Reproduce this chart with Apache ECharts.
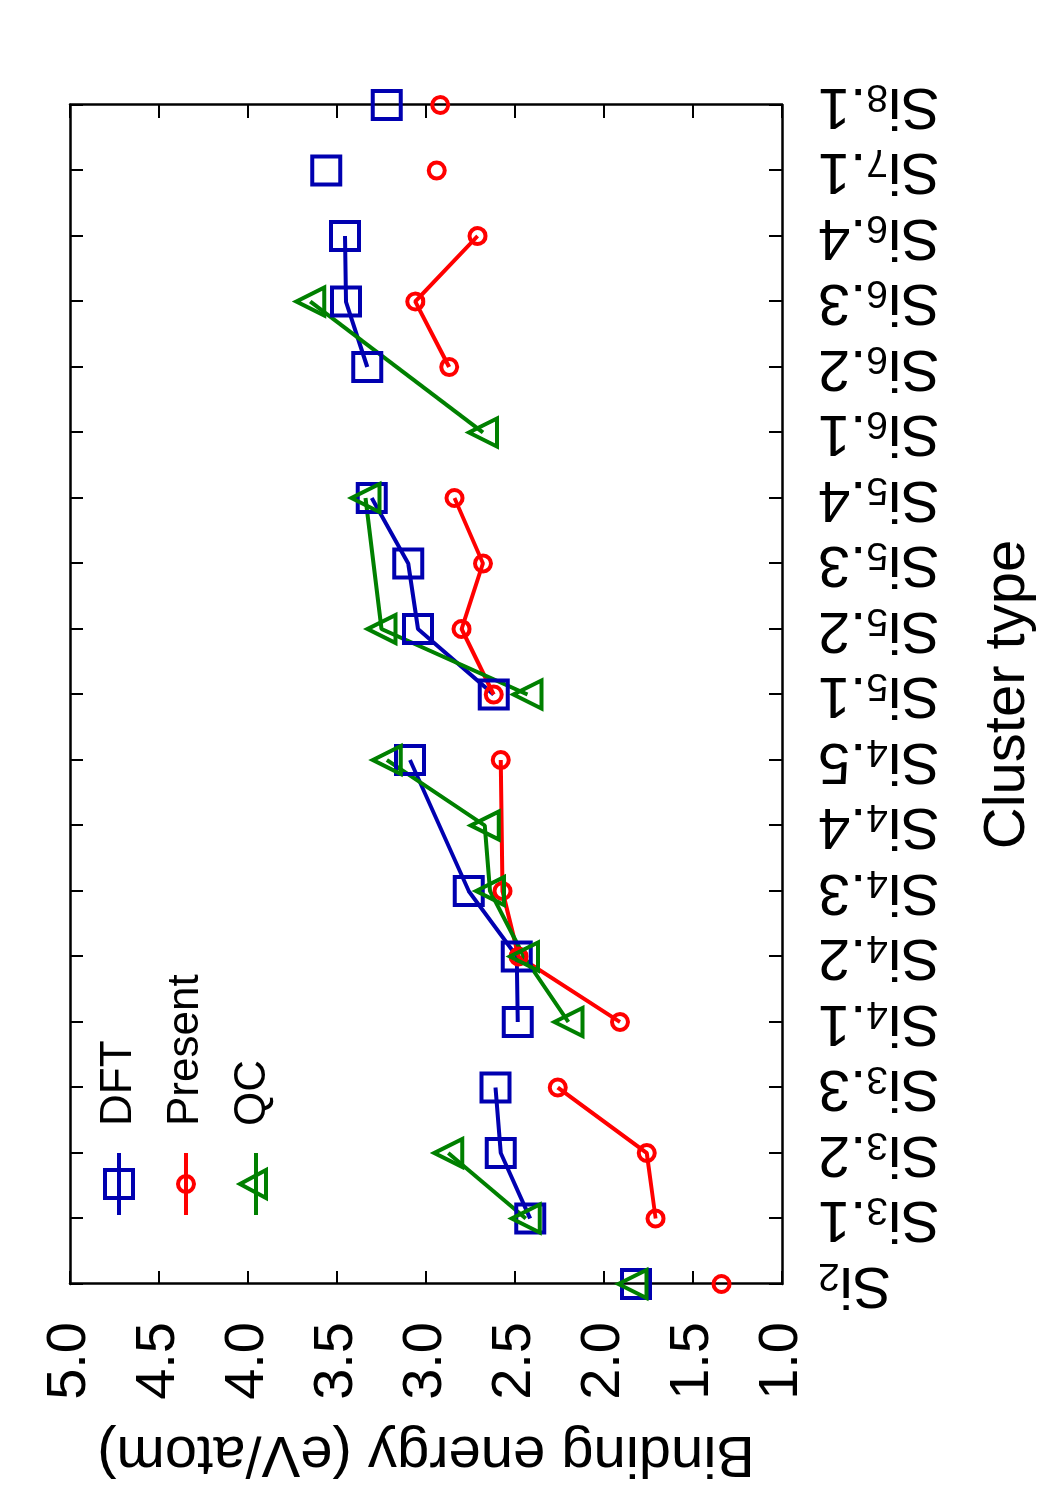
<!DOCTYPE html>
<html>
<head>
<meta charset="utf-8">
<script src="https://cdn.jsdelivr.net/npm/echarts@6/dist/echarts.min.js"></script>
<style>
  html, body { margin: 0; padding: 0; background: #fff; width: 1050px; height: 1500px; overflow: hidden; }
  /* the figure is a landscape plot turned a quarter turn counter-clockwise */
  #chart { position: absolute; left: 0; top: 0; width: 1500px; height: 1050px; transform-origin: 0 0; transform: translateY(1500px) rotate(-90deg); }
</style>
</head>
<body>
<div id="chart"></div>
<script>
const categories = ["Si2", "Si3.1", "Si3.2", "Si3.3", "Si4.1", "Si4.2", "Si4.3", "Si4.4", "Si4.5",
  "Si5.1", "Si5.2", "Si5.3", "Si5.4", "Si6.1", "Si6.2", "Si6.3", "Si6.4", "Si7.1", "Si8.1"];
const dft = [1.82, 2.415, 2.58, 2.61, 2.485, 2.49, 2.76, null, 3.09,
  2.62, 3.045, 3.10, 3.305, null, 3.33, 3.45, 3.455, 3.56, 3.22];
const present = [1.34, 1.71, 1.76, 2.26, 1.91, 2.48, 2.57, null, 2.58,
  2.62, 2.80, 2.68, 2.84, null, 2.87, 3.06, 2.71, 2.94, 2.92];
const qc = [1.84, 2.44, 2.875, null, 2.20, 2.45, 2.64, 2.67, 3.22,
  2.43, 3.25, null, 3.34, 2.68, null, 3.65, null, null, null];
// index ranges of clusters with the same size (lines are drawn only inside a group)
const groups = [[0, 0], [1, 3], [4, 8], [9, 12], [13, 16], [17, 17], [18, 18]];
const yTicks = [1.0, 1.5, 2.0, 2.5, 3.0, 3.5, 4.0, 4.5, 5.0];

const font = "Liberation Sans";
// legend keys: a short line with the marker drawn across it, like gnuplot
const methods = [
  { name: "DFT", values: dft, color: "#0000b0", symbol: "rect", size: 28,
    key: "path://M0,14L62,14M17,0L45,0L45,28L17,28Z" },
  { name: "Present", values: present, color: "#ff0000", symbol: "circle", size: 16,
    key: "path://M0,8L62,8M39,8A8,8,0,1,1,23,8A8,8,0,1,1,39,8Z" },
  { name: "QC", values: qc, color: "#008000", symbol: "triangle", size: 28,
    key: "path://M0,16L62,16M17,26L45,26L31,0Z" },
];

const series = [];
methods.forEach((m) => {
  groups.forEach(([a, b]) => {
    const data = [];
    for (let i = a; i <= b; i++) {
      if (m.values[i] != null) data.push([categories[i], m.values[i]]);
    }
    if (!data.length) return;
    series.push({
      name: m.name,
      type: "line",
      data: data,
      symbol: m.symbol,
      symbolSize: m.size,
      showAllSymbol: true,
      lineStyle: { color: m.color, width: 4 },
      itemStyle: { color: "transparent", borderColor: m.color, borderWidth: 4 },
      emphasis: { disabled: true },
      silent: true,
    });
  });
});

const tickStyle = { inside: true, length: 13, lineStyle: { color: "#000", width: 2 } };
const lineStyle = { lineStyle: { color: "#000", width: 2.5 } };

const option = {
  animation: false,
  backgroundColor: "#fff",
  textStyle: { fontFamily: font },
  grid: { left: 216, right: 105, top: 70, bottom: 268, containLabel: false },
  legend: {
    orient: "vertical",
    left: 278,
    top: 92,
    itemWidth: 62,
    itemHeight: 30,
    itemGap: 23,
    symbolKeepAspect: true,
    itemStyle: { borderWidth: 4 },
    data: methods.map((m) => ({ name: m.name, icon: m.key })),
    textStyle: { fontFamily: font, fontSize: 44, color: "#000", lineHeight: 44, padding: [0, 0, 0, 22] },
  },
  xAxis: [
    {
      type: "category",
      data: categories,
      boundaryGap: false,
      position: "bottom",
      axisLine: lineStyle,
      axisTick: tickStyle,
      axisLabel: {
        rotate: 90,
        margin: 36,
        interval: 0,
        fontFamily: font,
        fontSize: 58,
        color: "#000",
        formatter: (v) => v.replace(/^Si(\d)/, "Si{sub|$1}"),
        rich: { sub: { fontFamily: font, fontSize: 39, lineHeight: 14, verticalAlign: "bottom", color: "#000" } },
      },
      name: "Cluster type",
      nameLocation: "middle",
      nameGap: 197,
      nameTextStyle: { fontFamily: font, fontSize: 58, color: "#000" },
      splitLine: { show: false },
    },
    {
      type: "category",
      data: categories,
      boundaryGap: false,
      position: "top",
      axisLine: lineStyle,
      axisTick: tickStyle,
      axisLabel: { show: false },
      splitLine: { show: false },
    },
  ],
  yAxis: [
    {
      type: "value",
      min: yTicks[0],
      max: yTicks[yTicks.length - 1],
      interval: 0.5,
      position: "left",
      axisLine: { show: true, ...lineStyle },
      axisTick: { show: true, ...tickStyle },
      axisLabel: {
        margin: 38,
        fontFamily: font,
        fontSize: 56,
        color: "#000",
        formatter: (v) => v.toFixed(1),
      },
      name: "Binding energy (eV/atom)",
      nameLocation: "middle",
      nameRotate: 90,
      nameGap: 140,
      nameTextStyle: { fontFamily: font, fontSize: 58, color: "#000" },
      splitLine: { show: false },
    },
    {
      type: "value",
      min: yTicks[0],
      max: yTicks[yTicks.length - 1],
      interval: 0.5,
      position: "right",
      axisLine: { show: true, ...lineStyle },
      axisTick: { show: true, ...tickStyle },
      axisLabel: { show: false },
      splitLine: { show: false },
    },
  ],
  series: series,
};

const myChart = echarts.init(document.getElementById("chart"));
myChart.setOption(option);
</script>
</body>
</html>
